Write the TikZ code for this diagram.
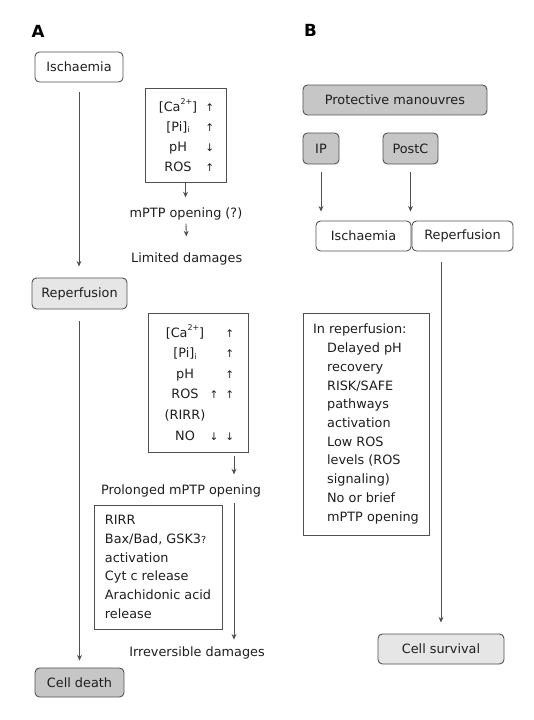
\documentclass[tikz,border=0pt]{standalone}
\usepackage{fontspec}
\setmainfont{DejaVu Sans}
\usetikzlibrary{arrows.meta,positioning}

\definecolor{lightfill}{HTML}{E6E6E6}
\definecolor{darkfill}{HTML}{C6C6C6}
\definecolor{linegray}{HTML}{505050}
\definecolor{inkgray}{HTML}{1E1E1E}

\newcommand{\upar}{{\fontsize{6}{6}\selectfont ↑}}
\newcommand{\dnar}{{\fontsize{6}{6}\selectfont ↓}}
\newcommand{\supsmall}[1]{\raisebox{0.95ex}{\fontsize{4.5}{5}\selectfont #1}}
\newcommand{\subsmall}[1]{\raisebox{-0.2ex}{\fontsize{4.5}{5}\selectfont #1}}

\tikzset{
	box/.style={draw=linegray, line width=0.5pt, rounded corners=2.5pt, inner sep=0pt, text=inkgray},
	plainbox/.style={draw=linegray, line width=0.5pt, inner sep=0pt, text=inkgray},
	txt/.style={inner sep=2pt, anchor=base, text=inkgray},
	sign/.style={inner sep=0pt, anchor=base east, text=inkgray},
	arr/.style={draw=linegray, line width=0.5pt, -{Stealth[length=3.2pt,width=2.8pt]}},
	panel/.style={font=\fontsize{9.5}{11}\selectfont\bfseries, text=black}
}

\begin{document}
\begin{tikzpicture}[x=0.02cm, y=-0.02cm, font=\fontsize{7.3}{10.6}\selectfont]
	\useasboundingbox (0,0) rectangle (534,720);
	
	\node[panel] (labA) at (38,31) {A};
	\node[panel] (labB) at (310.5,30.5) {B};
	
	% panel A
	\node[box, minimum width=1.76cm, minimum height=0.6cm] (ischA) at (79,67) {Ischaemia};
	\node[box, fill=lightfill, minimum width=1.9cm, minimum height=0.62cm] (repA) at (79.5,293.5) {Reperfusion};
	\node[box, fill=darkfill, minimum width=1.78cm, minimum height=0.58cm] (death) at (79.5,682.5) {Cell death};
	
	\node[plainbox, minimum width=1.62cm, minimum height=1.88cm] (condI) at (185.5,135) {};
	\foreach \lab/\dir [count=\i] in {{[Ca\supsmall{2+}]}/\upar, {[Pi]\subsmall{i}}/\upar, pH/\dnar, ROS/\upar} {
		\pgfmathsetmacro{\y}{111+20*(\i-1)}
		\node[txt] (condI-l\i) at (178,\y) {\lab};
		\node[sign] (condI-s\i) at (214.6,\y) {\dir};
	}
	
	\node[txt] (mptpI) at (186,217) {mPTP opening (?)};
	\node[txt] (limited) at (186.7,262) {Limited damages};
	
	\node[plainbox, minimum width=2.0cm, minimum height=2.78cm] (condR) at (198,382.5) {};
	\foreach \lab/\dir [count=\i] in {{[Ca\supsmall{2+}]}/\upar, {[Pi]\subsmall{i}}/\upar, pH/\upar, ROS/{\upar\hspace{4pt}\upar}, {(RIRR)}/{}, NO/{\dnar\hspace{4pt}\dnar}} {
		\pgfmathsetmacro{\y}{337+20.6*(\i-1)}
		\node[txt] (condR-l\i) at (185,\y) {\lab};
		\node[sign] (condR-s\i) at (234.6,\y) {\dir};
	}
	
	\node[txt] (prolonged) at (181,494) {Prolonged mPTP opening};
	\node[plainbox, minimum width=2.56cm, minimum height=2.48cm, align=left, font=\fontsize{7.3}{10.7}\selectfont] (events) at (158,567)
		{RIRR\\Bax/Bad, GSK3{\fontsize{5.5}{6}\selectfont ?}\\activation\\Cyt c release\\Arachidonic acid\\release};
	\node[txt] (irrev) at (197,656.7) {Irreversible damages};
	
	\coordinate (drop) at (234,0);
	\draw[arr, shorten <=0.2cm, shorten >=0.22cm] (ischA.south) -- (ischA.south |- repA.north);
	\draw[arr, shorten <=0.24cm, shorten >=0.14cm] (repA.south) -- (repA.south |- death.north);
	\draw[arr, shorten >=0.12cm] (condI.south) -- (condI.south |- mptpI.north);
	\draw[arr, shorten >=0.24cm] (mptpI.south) -- (limited.north);
	\draw[arr, shorten <=0.08cm, shorten >=0.12cm] (condR.south -| drop) -- (prolonged.north -| drop);
	\draw[arr, shorten <=0.05cm, shorten >=0.07cm] (prolonged.south -| drop) -- (irrev.north -| drop);
	
	% panel B
	\node[box, fill=darkfill, minimum width=3.68cm, minimum height=0.6cm] (protect) at (395,100) {Protective manouvres};
	\node[box, fill=darkfill, minimum width=0.72cm, minimum height=0.62cm] (ip) at (321,148.5) {IP};
	\node[box, fill=darkfill, minimum width=1.1cm, minimum height=0.62cm] (postc) at (410.5,148.5) {PostC};
	\node[box, minimum width=1.9cm, minimum height=0.6cm] (ischB) at (363.5,236) {Ischaemia};
	\node[box, minimum width=2.02cm, minimum height=0.6cm] (repB) at (462.5,236) {Reperfusion};
	
	\node[plainbox, minimum width=2.52cm, minimum height=4.44cm, align=left, font=\fontsize{7.3}{10.65}\selectfont] (inrep) at (366,424)
		{In reperfusion:\\\hspace*{0.28cm}Delayed pH\\\hspace*{0.28cm}recovery\\\hspace*{0.28cm}RISK/SAFE\\\hspace*{0.28cm}pathways\\\hspace*{0.28cm}activation\\\hspace*{0.28cm}Low ROS\\\hspace*{0.28cm}levels (ROS\\\hspace*{0.28cm}signaling)\\\hspace*{0.28cm}No or brief\\\hspace*{0.28cm}mPTP opening};
	\node[box, fill=lightfill, minimum width=2.52cm, minimum height=0.6cm] (survival) at (441,649) {Cell survival};
	
	\draw[arr, shorten <=0.16cm, shorten >=0.18cm] (ip.south) -- (ip.south |- ischB.north);
	\draw[arr, shorten <=0.16cm, shorten >=0.18cm] (postc.south) -- (postc.south |- ischB.north);
	\draw[arr, shorten <=0.22cm, shorten >=0.22cm] (survival.north |- repB.south) -- (survival.north);
\end{tikzpicture}
\end{document}
